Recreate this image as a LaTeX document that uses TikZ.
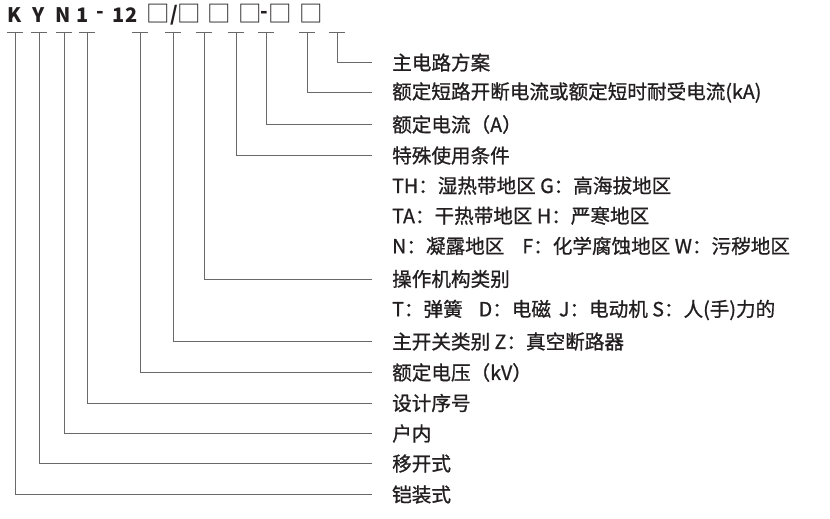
\documentclass[tikz,border=0pt]{standalone}
\usepackage{fontspec}
\setmainfont{Noto Sans CJK SC}
\newfontfamily\labelfont{Noto Sans CJK SC}[FakeBold=0.9]
\usepackage{xcolor}
\usetikzlibrary{positioning}
\definecolor{codeink}{RGB}{35, 31, 32}
\definecolor{leadgray}{RGB}{105, 105, 105}
\newcommand{\blank}{\makebox[14pt][c]{□}}

\begin{document}
\begin{tikzpicture}[x=1pt, y=-1pt,
                lbl/.style={anchor=west, inner sep=0pt, text=codeink,
                            font=\labelfont\fontsize{19.6}{20}\selectfont},
                chr/.style={inner sep=0pt, text=codeink,
                            font=\bfseries\fontsize{20}{20}\selectfont},
                sq/.style={inner sep=0pt, text=codeink,
                           font=\fontsize{23.5}{24}\selectfont},
                lead/.style={draw=leadgray, line width=0.8pt},
                tick/.style={draw=leadgray, line width=0.8pt}]
                \useasboundingbox (0,0) rectangle (830,519);

                % model code
                \node[chr] (cK) at (15,15) {K};     \node[chr] (cY) at (39,15) {Y};
                \node[chr] (cN) at (63.5,15) {N};   \node[chr] (c1) at (82.5,15) {1};
                \node[chr] (cd) at (100,15) {-};    \node[chr] (c12) at (125,15) {12};
                \node[sq] (s1) at (158,14) {\blank};   \node[chr] (csl) at (174,15) {/};
                \node[sq] (s2) at (189,14) {\blank};   \node[sq] (s3) at (219.5,14) {\blank};
                \node[sq] (s4) at (250,14) {\blank};   \node[chr] (cd2) at (264.5,15) {-};
                \node[sq] (s5) at (280,14) {\blank};   \node[sq] (s6) at (311.5,14) {\blank};

                % tick marks under the code
                \coordinate (t0) at (337,32);  \coordinate (t1) at (307,32);
                \coordinate (t2) at (266,32);  \coordinate (t3) at (236,32);
                \coordinate (t4) at (204,32);  \coordinate (t5) at (173,32);
                \coordinate (t6) at (140,32);  \coordinate (t7) at (87,32);
                \coordinate (t8) at (64,32);   \coordinate (t9) at (39,32);
                \coordinate (t10) at (15,32);
                \foreach \t in {t0,t1,t2,t3,t4,t5,t6,t7,t8,t9,t10}
                    \draw[tick] ([xshift=-8pt]\t) -- ([xshift=8pt]\t);

                % line ends and labels
                \coordinate (e0) at (372,62.5);
                \node[lbl, right=20pt of e0] (l0) {主电路方案};
                \coordinate (e1) at (372,92.5);
                \node[lbl, right=20pt of e1] (l1) {额定短路开断电流或额定短时耐受电流(kA)};
                \coordinate (e2) at (372,124.5);
                \node[lbl, right=20pt of e2] (l2) {额定电流（A）};
                \coordinate (e3) at (372,155.5);
                \node[lbl, right=20pt of e3] (l3) {特殊使用条件};
                \node[lbl, below=11.5pt of l3.south west, anchor=north west] (l4)
                      {TH：湿热带地区 G：高海拔地区};
                \node[lbl, below=11.5pt of l4.south west, anchor=north west] (l5)
                      {TA：干热带地区 H：严寒地区};
                \node[lbl, below=11.5pt of l5.south west, anchor=north west] (l6)
                      {N：凝露地区\hspace{18pt}F：化学腐蚀地区 W：污秽地区};
                \coordinate (e7) at (372,279);
                \node[lbl, right=20pt of e7] (l7) {操作机构类别};
                \coordinate (e8) at (372,310);
                \node[lbl, right=20pt of e8] (l8)
                      {T：弹簧\hspace{16pt}D：电磁\hspace{8pt}J：电动机 S：人(手)力的};
                \coordinate (e9) at (372,341.5);
                \node[lbl, right=20pt of e9] (l9) {主开关类别 Z：真空断路器};
                \coordinate (e10) at (372,372.5);
                \node[lbl, right=20pt of e10] (l10) {额定电压（kV）};
                \coordinate (e11) at (372,403);
                \node[lbl, right=20pt of e11] (l11) {设计序号};
                \coordinate (e12) at (372,433.5);
                \node[lbl, right=20pt of e12] (l12) {户内};
                \coordinate (e13) at (372,463.5);
                \node[lbl, right=20pt of e13] (l13) {移开式};
                \coordinate (e14) at (372,494.5);
                \node[lbl, right=20pt of e14] (l14) {铠装式};

                % leaders
                \draw[lead] (t0) |- (e0);   \draw[lead] (t1) |- (e1);
                \draw[lead] (t2) |- (e2);   \draw[lead] (t3) |- (e3);
                \draw[lead] (t4) |- (e7);   \draw[lead] (t5) |- (e9);
                \draw[lead] (t6) |- (e10);  \draw[lead] (t7) |- (e11);
                \draw[lead] (t8) |- (e12);  \draw[lead] (t9) |- (e13);
                \draw[lead] (t10) |- (e14);
            \end{tikzpicture}
\end{document}
